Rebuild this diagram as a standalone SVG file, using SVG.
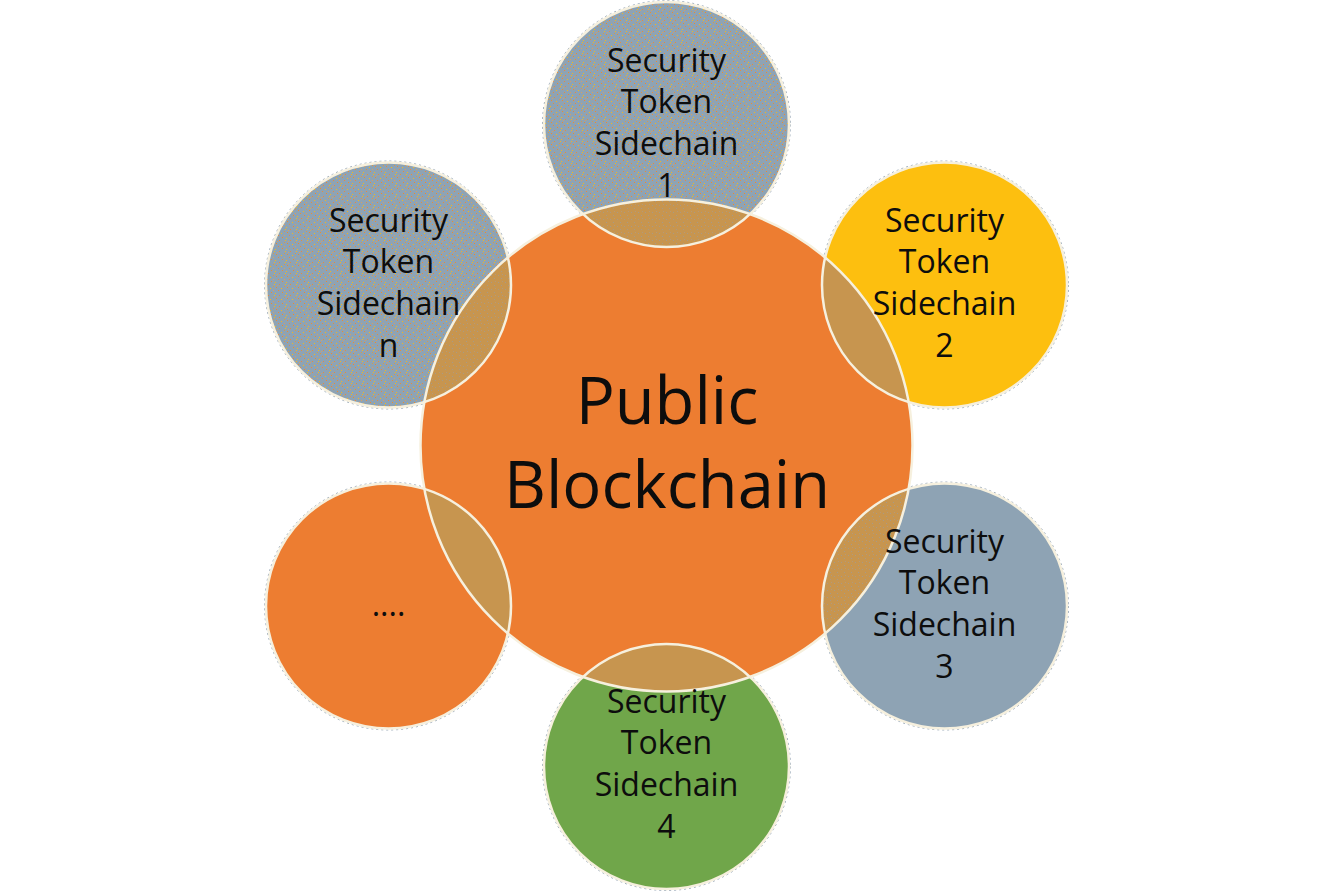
<svg xmlns="http://www.w3.org/2000/svg" width="1334" height="891" viewBox="0 0 1334 891">
  <defs>
    <pattern id="noise" width="11" height="11" patternUnits="userSpaceOnUse">
      <rect width="11" height="11" fill="#8EA3B4"/>
      <rect x="1" y="1" width="1" height="1" fill="#F08A2E"/>
      <rect x="6" y="2" width="1" height="1" fill="#F5B81A"/>
      <rect x="3" y="4" width="1" height="1" fill="#E98B3C"/>
      <rect x="9" y="4" width="1" height="1" fill="#D9A060"/>
      <rect x="7" y="6" width="1" height="1" fill="#F08A2E"/>
      <rect x="0" y="7" width="1" height="1" fill="#F5B81A"/>
      <rect x="4" y="9" width="1" height="1" fill="#E98B3C"/>
      <rect x="10" y="9" width="1" height="1" fill="#F5B81A"/>
      <rect x="9" y="0" width="1" height="1" fill="#D99A4A"/>
      <rect x="2" y="10" width="1" height="1" fill="#D9A060"/>
    </pattern>
    <pattern id="lensnoise" width="7" height="7" patternUnits="userSpaceOnUse">
      <rect width="7" height="7" fill="#C7954F"/>
      <rect x="1" y="2" width="1" height="1" fill="#A89A86"/>
      <rect x="4" y="5" width="1" height="1" fill="#A89A86"/>
      <rect x="5" y="1" width="1" height="1" fill="#B59A78"/>
    </pattern>
    <clipPath id="centerClip">
      <circle cx="666.5" cy="445.5" r="246"/>
    </clipPath>
  </defs>
  <style>
    .ring { fill: none; stroke: #F6F0DE; stroke-width: 2.5; }
    .edge { fill: none; stroke: #9AA9B8; stroke-width: 1; stroke-dasharray: 2 3; }
    .lbl { font-family: "Open Sans", "Noto Sans", sans-serif; font-size: 32px; fill: #0D0D0D; text-anchor: middle; }
    .big { font-family: "Open Sans", "Noto Sans", sans-serif; font-size: 65px; fill: #0D0D0D; text-anchor: middle; }
    .lens { fill: #C7954F; }
  </style>

  <g id="edges">
    <circle class="edge" cx="666.5" cy="124.5" r="124"/>
    <circle class="edge" cx="944.5" cy="285" r="124"/>
    <circle class="edge" cx="944.5" cy="606" r="124"/>
    <circle class="edge" cx="666.5" cy="766.5" r="124"/>
    <circle class="edge" cx="388.5" cy="606" r="124"/>
    <circle class="edge" cx="388.5" cy="285" r="124"/>
  </g>

  <g id="node-s1"><circle cx="666.5" cy="124.5" r="122.5" fill="url(#noise)"/></g>
  <g id="node-s2"><circle cx="944.5" cy="285" r="122.5" fill="#FDBF0F"/></g>
  <g id="node-s3"><circle cx="944.5" cy="606" r="122.5" fill="#8EA3B4"/></g>
  <g id="node-s4"><circle cx="666.5" cy="766.5" r="122.5" fill="#70A64A"/></g>
  <g id="node-dots"><circle cx="388.5" cy="606" r="122.5" fill="#ED7D31"/></g>
  <g id="node-sn"><circle cx="388.5" cy="285" r="122.5" fill="url(#noise)"/></g>

  <g id="node-center"><circle cx="666.5" cy="445.5" r="246" fill="#ED7D31"/></g>

  <g id="overlaps" clip-path="url(#centerClip)">
    <circle cx="666.5" cy="124.5" r="122.5" fill="url(#lensnoise)"/>
    <circle class="lens" cx="944.5" cy="285" r="122.5"/>
    <circle cx="944.5" cy="606" r="122.5" fill="url(#lensnoise)"/>
    <circle class="lens" cx="666.5" cy="766.5" r="122.5"/>
    <circle class="lens" cx="388.5" cy="606" r="122.5"/>
    <circle cx="388.5" cy="285" r="122.5" fill="url(#lensnoise)"/>
  </g>

  <g id="outlines">
    <circle class="ring" cx="666.5" cy="445.5" r="246"/>
    <circle class="ring" cx="666.5" cy="124.5" r="122.5"/>
    <circle class="ring" cx="944.5" cy="285" r="122.5"/>
    <circle class="ring" cx="944.5" cy="606" r="122.5"/>
    <circle class="ring" cx="666.5" cy="766.5" r="122.5"/>
    <circle class="ring" cx="388.5" cy="606" r="122.5"/>
    <circle class="ring" cx="388.5" cy="285" r="122.5"/>
  </g>

  <g id="labels">
    <text class="big" x="667" y="424">Public</text>
    <text class="big" x="667" y="508">Blockchain</text>

    <text class="lbl" x="666.5" y="72">Security</text>
    <text class="lbl" x="666.5" y="113">Token</text>
    <text class="lbl" x="666.5" y="155">Sidechain</text>
    <text class="lbl" x="666.5" y="197">1</text>

    <text class="lbl" x="944.5" y="232">Security</text>
    <text class="lbl" x="944.5" y="273">Token</text>
    <text class="lbl" x="944.5" y="315">Sidechain</text>
    <text class="lbl" x="944.5" y="357">2</text>

    <text class="lbl" x="944.5" y="553">Security</text>
    <text class="lbl" x="944.5" y="594">Token</text>
    <text class="lbl" x="944.5" y="636">Sidechain</text>
    <text class="lbl" x="944.5" y="678">3</text>

    <text class="lbl" x="666.5" y="713">Security</text>
    <text class="lbl" x="666.5" y="754">Token</text>
    <text class="lbl" x="666.5" y="796">Sidechain</text>
    <text class="lbl" x="666.5" y="838">4</text>

    <text class="lbl" x="388.5" y="616">....</text>

    <text class="lbl" x="388.5" y="232">Security</text>
    <text class="lbl" x="388.5" y="273">Token</text>
    <text class="lbl" x="388.5" y="315">Sidechain</text>
    <text class="lbl" x="388.5" y="357">n</text>
  </g>
</svg>
